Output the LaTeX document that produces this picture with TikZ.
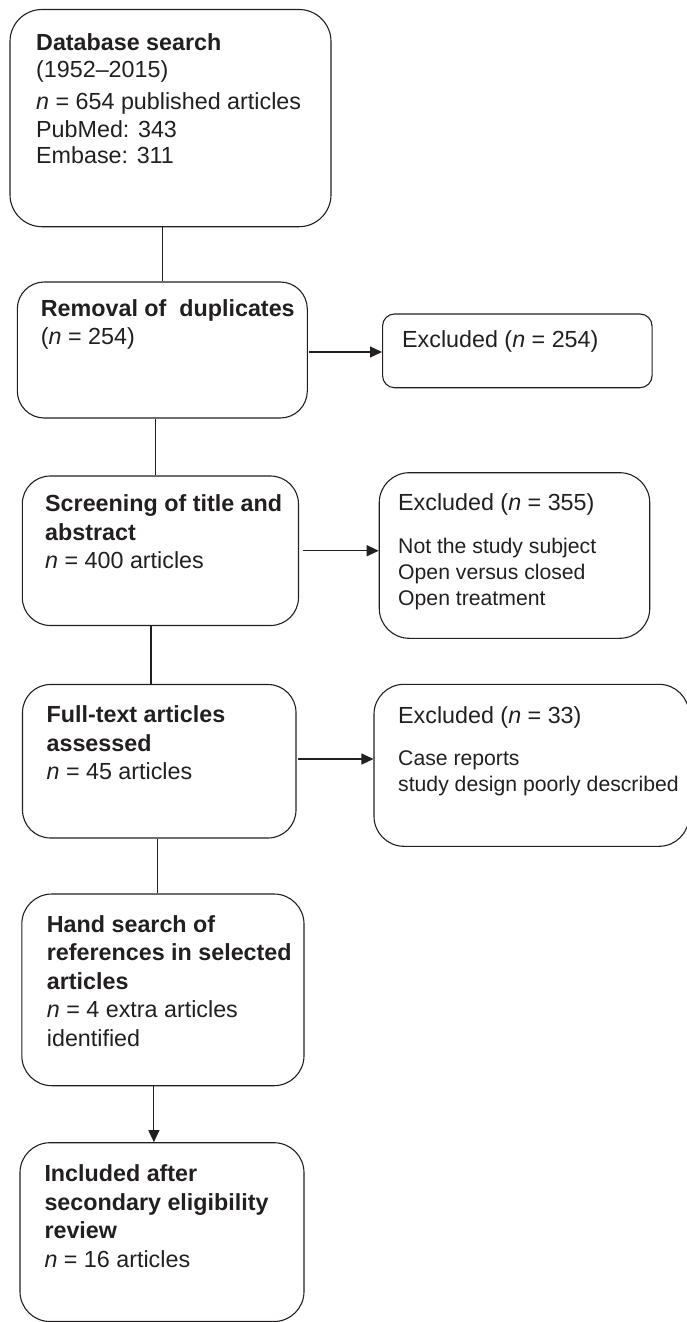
\documentclass[tikz,border=0pt]{standalone}
\usepackage{fontspec}
\setmainfont{Liberation Sans}
\usetikzlibrary{arrows.meta}
\definecolor{ink}{HTML}{231F20}
\begin{document}
\begin{tikzpicture}[x=1pt,y=-1pt,
  box/.style={draw=ink, line width=1.1pt, rounded corners=#1, inner sep=0pt},
  box/.default=28pt,
  txt/.style={anchor=north west, inner sep=0pt, align=left, text=ink, font=\fontsize{23.3}{28.4}\selectfont},
  lst/.style={anchor=north west, inner sep=0pt, align=left, text=ink, font=\fontsize{21.2}{26}\selectfont},
  link/.style={draw=ink, line width=1.1pt},
  arr/.style={link, -{Triangle[length=12pt,width=11pt]}}]
\useasboundingbox (0,0) rectangle (686,1322);

% main column boxes
\node[box=32pt, minimum width=321pt, minimum height=217.2pt] (b1) at (170.5,118.1) {};
\node[box=27pt, minimum width=290pt, minimum height=136pt] (b2) at (162.3,350) {};
\node[box=28pt, minimum width=276.2pt, minimum height=149.5pt] (b3) at (160.4,550.75) {};
\node[box=28pt, minimum width=273.5pt, minimum height=153.5pt] (b4) at (159.25,761.25) {};
\node[box=30pt, minimum width=282.2pt, minimum height=191.7pt] (b5) at (162.9,989.85) {};
\node[box=30pt, minimum width=284pt, minimum height=178.8pt] (b6) at (162,1232.1) {};

% exclusion boxes
\node[box=12pt, minimum width=269.5pt, minimum height=73.7pt] (e1) at (517.3,350.85) {};
\node[box=30pt, minimum width=270.5pt, minimum height=165.6pt] (e2) at (514.5,555.5) {};
\node[box=30pt, minimum width=315pt, minimum height=162pt] (e3) at (531.5,765.3) {};

% texts
\node[txt] (t1) at (36,30.12) {\textbf{Database search}\strut\\[-1.4pt](1952–2015)\\[3.6pt]\textit{n} = 654 published articles\\[-0.4pt]PubMed: 343\\[-2.4pt]Embase: 311};
\node[txt] (t2) at (40.7,296.12) {\textbf{Removal of\ \ duplicates}\strut\\(\textit{n} = 254)};
\node[txt] (t3) at (45,491.82) {\textbf{Screening of title and}\strut\\\textbf{abstract}\\\textit{n} = 400 articles};
\node[txt] (t4) at (46.4,702.82) {\textbf{Full-text articles}\strut\\\textbf{assessed}\\\textit{n} = 45 articles};
\node[txt] (t5) at (46.7,912.42) {\textbf{Hand search of}\strut\\\textbf{references in selected}\\\textbf{articles}\\\textit{n} = 4 extra articles\\identified};
\node[txt] (t6) at (44.3,1161.82) {\textbf{Included after}\strut\\\textbf{secondary eligibility}\\\textbf{review}\\\textit{n} = 16 articles};

\node[txt] (e1h) at (402,327.62) {Excluded (\textit{n} = 254)\strut};
\node[txt] (e2h) at (398,490.12) {Excluded (\textit{n} = 355)\strut};
\node[lst] (e2l) at (398,534.8) {Not the study subject\strut\\Open versus closed\\Open treatment};
\node[txt] (e3h) at (398,703.12) {Excluded (\textit{n} = 33)\strut};
\node[lst] (e3l) at (398,746.8) {Case reports\strut\\study design poorly described};

% vertical connectors
\draw[link] (b1.south -| b2.north) -- (b2.north);
\draw[link] ([xshift=-7pt]b2.south) -- ([xshift=-7pt]b2.south |- b3.north);
\draw[link] ([xshift=-9.4pt]b3.south) -- ([xshift=-9.4pt]b3.south |- b4.north);
\draw[link] ([xshift=-2pt]b4.south) -- ([xshift=-2pt]b4.south |- b5.north);
\draw[arr] ([xshift=-9pt]b5.south) -- ([xshift=-9pt]b5.south |- b6.north);

% horizontal arrows
\draw[arr] ([xshift=1.5pt,yshift=-2pt]b2.east) -- ([yshift=-2pt]b2.east -| e1.west);
\draw[arr] ([xshift=4pt]b3.east) -- (b3.east -| e2.west);
\draw[arr] ([xshift=1.5pt,yshift=2.25pt]b4.east) -- ([yshift=2.25pt]b4.east -| e3.west);
\end{tikzpicture}
\end{document}
